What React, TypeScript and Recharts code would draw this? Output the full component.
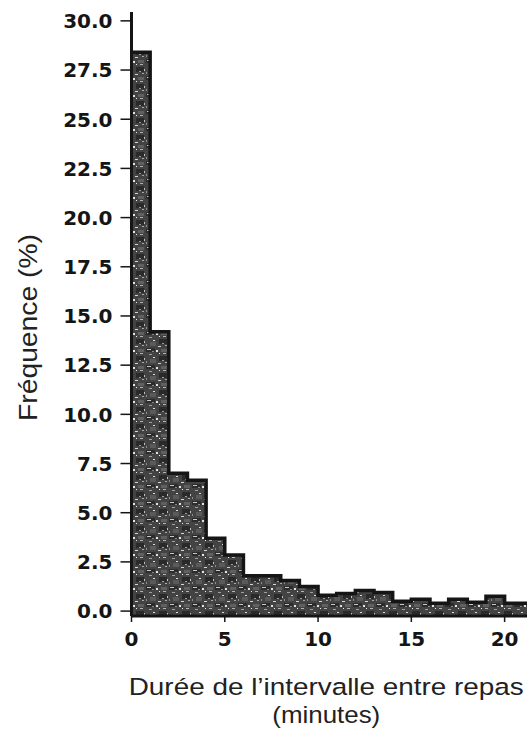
import { ComposedChart, Area, XAxis, YAxis } from 'recharts';

// intervalle entre repas, classes de 1 minute (début de classe)
const binStarts = [0, 1, 2, 3, 4, 5, 6, 7, 8, 9, 10, 11, 12, 13, 14, 15, 16, 17, 18, 19, 20, 21];
// fréquence (%) par classe
const frequency = [28.4, 14.2, 7.0, 6.65, 3.7, 2.85, 1.8, 1.8, 1.55, 1.25, 0.8, 0.9, 1.05, 0.95, 0.5, 0.6, 0.4, 0.6, 0.45, 0.75, 0.4, 0.4];
const yTicks = [0, 2.5, 5, 7.5, 10, 12.5, 15, 17.5, 20, 22.5, 25, 27.5, 30];
const minorTicks = Array.from({ length: 61 }, (_, i) => i * 0.5);
const xTicks = [0, 5, 10, 15, 20];

// fermeture de la dernière marche (bord droit de la dernière classe)
const histData = [
  ...binStarts.map((m, i) => ({ minute: m, freq: frequency[i] })),
  { minute: binStarts[binStarts.length - 1] + 1, freq: frequency[frequency.length - 1] },
];

const INK = '#151515';

function YTick({ x, y, payload }: any) {
  return (
    <text x={x} y={y} dy={7.3} textAnchor="end" fontFamily="DejaVu Sans" fontWeight="bold" fontSize={20} fill={INK}>
      {Number(payload.value).toFixed(1)}
    </text>
  );
}

function XTick({ x, y, payload }: any) {
  return (
    <text x={x} y={y} dy={22} textAnchor="middle" fontFamily="DejaVu Sans" fontWeight="bold" fontSize={20} fill={INK}>
      {payload.value}
    </text>
  );
}

function XTitle({ viewBox }: any) {
  const cx = viewBox.x + viewBox.width / 2 - 3;
  return (
    <g fontFamily="Liberation Sans, Arial, sans-serif" fontSize={24.5} fill="#222">
      <text x={cx} y={viewBox.y + 79} textAnchor="middle" textLength={395} lengthAdjust="spacingAndGlyphs">
        Durée de l’intervalle  entre repas
      </text>
      <text x={cx} y={viewBox.y + 107} textAnchor="middle" textLength={108} lengthAdjust="spacingAndGlyphs">
        (minutes)
      </text>
    </g>
  );
}

function YTitle({ viewBox }: any) {
  const cx = 29;
  const cy = viewBox.y + viewBox.height / 2 + 13.5;
  return (
    <text
      x={cx}
      y={cy}
      transform={`rotate(-90, ${cx}, ${cy})`}
      textAnchor="middle"
      fontFamily="Liberation Sans, Arial, sans-serif"
      fontSize={25}
      fill="#222"
      textLength={187}
      lengthAdjust="spacingAndGlyphs"
    >
      Fréquence (%)
    </text>
  );
}

export default function App() {
  return (
    <div style={{ width: 527, height: 736, overflow: 'hidden', paddingLeft: 8, paddingTop: 8, boxSizing: 'border-box' }}>
      <style>{'body{margin:0}'}</style>
      <ComposedChart width={519} height={720} data={histData} margin={{ top: 4, right: 0, left: 0, bottom: 0 }}>
        <defs>
          {/* grain de la trame imprimée */}
          <pattern id="grain" width="23" height="17" patternUnits="userSpaceOnUse">
            <rect width="23" height="17" fill="#434343" />
            <rect x="0" y="0" width="9" height="4" fill="#2c2c2c" />
            <rect x="13" y="8" width="8" height="5" fill="#2a2a2a" />
            <rect x="4" y="11" width="6" height="4" fill="#5a5a5a" />
            <rect x="15" y="1" width="6" height="3" fill="#606060" />
            <rect x="1" y="1" width="4" height="1" fill="#c8c8c8" />
            <rect x="10" y="2" width="2" height="2" fill="#e2e2e2" />
            <rect x="3" y="6" width="3" height="1" fill="#a0a0a0" />
            <rect x="17" y="5" width="3" height="1" fill="#b4b4b4" />
            <rect x="7" y="9" width="2" height="1" fill="#dcdcdc" />
            <rect x="0" y="13" width="1" height="2" fill="#8c8c8c" />
            <rect x="19" y="14" width="2" height="1" fill="#a8a8a8" />
            <rect x="12" y="15" width="3" height="1" fill="#d4d4d4" />
            <rect x="21" y="10" width="1" height="2" fill="#c0c0c0" />
            <rect x="13" y="5" width="1" height="1" fill="#f0f0f0" />
            <rect x="6" y="3" width="2" height="1" fill="#8a8a8a" />
            <rect x="16" y="12" width="2" height="1" fill="#9c9c9c" />
          </pattern>
        </defs>

        {/* graduations secondaires de l'axe des fréquences */}
        <YAxis
          yAxisId="minor"
          orientation="left"
          width={0}
          type="number"
          domain={[-0.25, 30.45]}
          ticks={minorTicks}
          interval={0}
          axisLine={false}
          tickSize={3}
          tickLine={{ stroke: INK, strokeWidth: 1 }}
          tick={() => <g />}
        />
        <YAxis
          yAxisId="main"
          orientation="left"
          width={123.5}
          type="number"
          domain={[-0.25, 30.45]}
          ticks={yTicks}
          interval={0}
          axisLine={{ stroke: INK, strokeWidth: 3 }}
          tickLine={{ stroke: INK, strokeWidth: 1.5 }}
          tickSize={11}
          tickMargin={8}
          tick={<YTick />}
          label={{ content: <YTitle /> }}
        />
        <XAxis
          dataKey="minute"
          type="number"
          domain={[0, 21.2]}
          allowDataOverflow
          ticks={xTicks}
          interval={0}
          height={112}
          axisLine={{ stroke: INK, strokeWidth: 3 }}
          tickLine={{ stroke: INK, strokeWidth: 1.5 }}
          tickSize={6}
          tickMargin={2}
          tick={<XTick />}
          label={{ content: <XTitle /> }}
        />

        <Area
          yAxisId="main"
          type="stepAfter"
          dataKey="freq"
          baseValue="dataMin"
          stroke={INK}
          strokeWidth={3.5}
          fill="url(#grain)"
          fillOpacity={1}
          dot={false}
          activeDot={false}
          isAnimationActive={false}
        />
      </ComposedChart>
    </div>
  );
}
